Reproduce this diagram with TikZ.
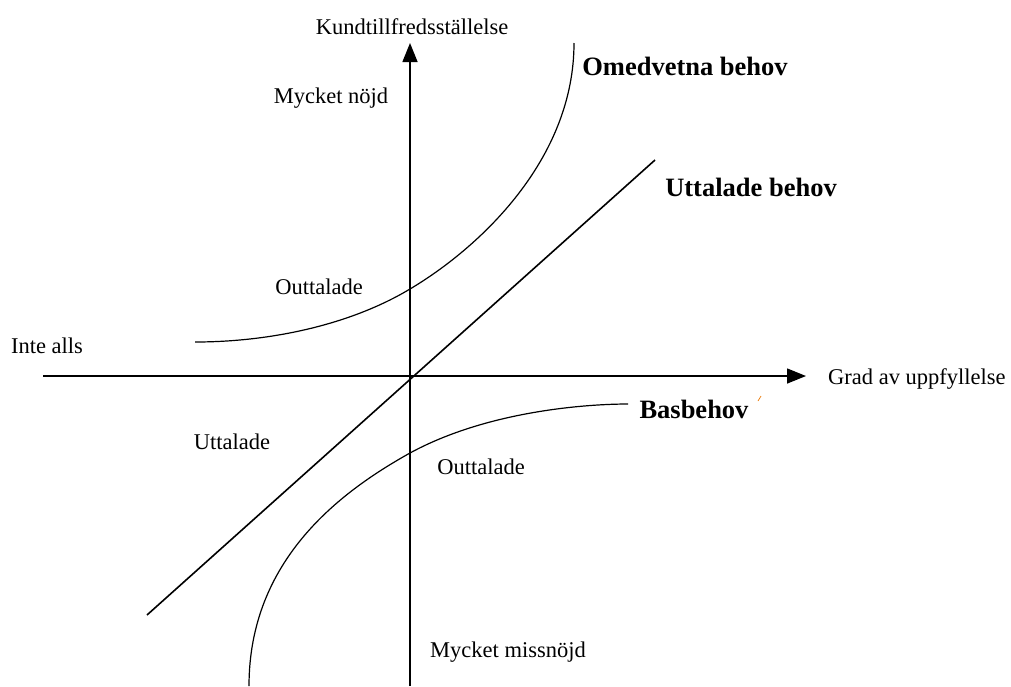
\documentclass[tikz,border=0pt]{standalone}
\usepackage{fontspec}
\setmainfont{Liberation Serif}
\usetikzlibrary{arrows.meta}
\tikzset{
  axis/.style={line width=1.5pt, -{Triangle[length=19pt,width=15pt]}},
  plainline/.style={line width=1.6pt},
  curve/.style={line width=1.2pt},
  lbl/.style={inner sep=0pt, font=\fontsize{22.5}{26}\selectfont},
  blbl/.style={inner sep=0pt, font=\fontsize{26.5}{30}\selectfont\bfseries},
}
\begin{document}
\begin{tikzpicture}[x=1pt,y=-1pt]
\useasboundingbox (0,0) rectangle (1011,686);
% axes
\coordinate (xl) at (43,376);
\coordinate (xr) at (806,376);
\coordinate (yb) at (410,686);
\coordinate (yt) at (410,43);
\draw[axis] (xl) -- (xr);
\draw[axis] (yb) -- (yt);
% diagonal
\coordinate (dl) at (147,615);
\coordinate (dr) at (655,160);
\draw[plainline] (dl) -- (dr);
% upper curve (Omedvetna behov)
\coordinate (u0) at (195,342);
\coordinate (um) at (410,289);
\coordinate (u1) at (574,43);
\draw[curve] (u0) .. controls (270,342) and (350,325) .. (um)
                  .. controls (479,248) and (574,160) .. (u1);
% lower curve (Basbehov)
\coordinate (l0) at (628,404);
\coordinate (lm) at (410,453);
\coordinate (l1) at (249,686);
\draw[curve] (l0) .. controls (590,404) and (489,410) .. (lm)
                  .. controls (340,492) and (249,560) .. (l1);
% tiny mark
\coordinate (m0) at (758,401);
\coordinate (m1) at (761,396);
\draw[orange!70!brown, line width=0.8pt] (m0) -- (m1);
% labels
\node[lbl] (kund) at (412,27) {Kundtillfredsställelse};
\node[lbl] (mn) at (331,98) {Mycket nöjd};
\node[blbl] (omed) at (685,66) {Omedvetna behov};
\node[blbl] (utt) at (751,187) {Uttalade behov};
\node[lbl] (out1) at (319,287) {Outtalade};
\node[lbl] (inte) at (47,346) {Inte alls};
\node[lbl, anchor=west] (grad) at (828,379) {Grad av uppfyllelse};
\node[blbl] (bas) at (694,409) {Basbehov};
\node[lbl] (utt2) at (232,442) {Uttalade};
\node[lbl] (out2) at (481,467) {Outtalade};
\node[lbl, anchor=west] (miss) at (430,652) {Mycket missnöjd};
\end{tikzpicture}
\end{document}
